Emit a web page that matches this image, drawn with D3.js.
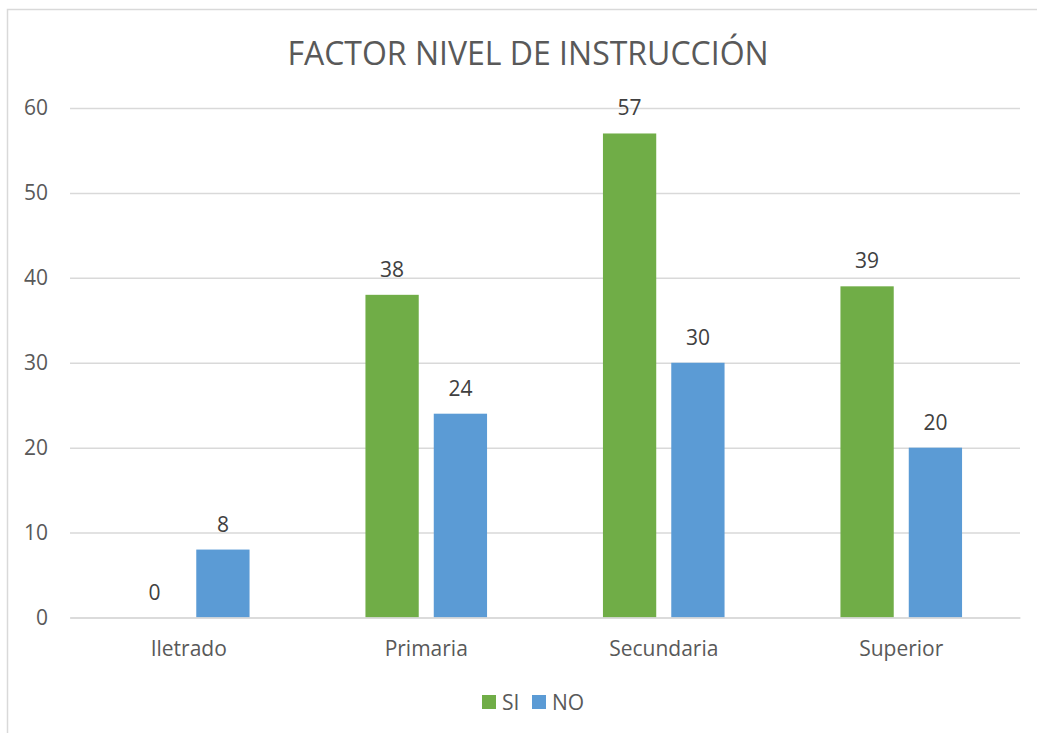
<!DOCTYPE html>
<html><head><meta charset="utf-8">
<script src="https://cdn.jsdelivr.net/npm/d3@7"></script>
<style>body{margin:0;background:#fff;} text{font-family:"Open Sans",sans-serif;}</style>
</head><body><svg id="c" width="1037" height="733" style="display:block"></svg>
<script>
const categories = ["Iletrado","Primaria","Secundaria","Superior"];
const seriesNames = ["SI","NO"];
const siValues = [0,38,57,39];
const noValues = [8,24,30,20];
const yTicks = [0,10,20,30,40,50,60];
const colors = ["#70AD47","#5B9BD5"];

const svg = d3.select("#c");
svg.append("rect").attr("x",7.5).attr("y",9.5).attr("width",1040).attr("height",740)
  .attr("fill","#fff").attr("stroke","#d9d9d9").attr("stroke-width",1.5);

const pLeft=70,pRight=1020,pTop=108,pBottom=617.5;
const x = d3.scaleBand().domain(categories).range([pLeft,pRight]).paddingInner(0).paddingOuter(0);
const y = d3.scaleLinear().domain([0,60]).range([pBottom,pTop]);
const inner = d3.scaleBand().domain(seriesNames).range([-60.8,60.8]).paddingInner(0.22);

// grid
const yAxis = d3.axisLeft(y).tickValues(yTicks).tickSize(-(pRight-pLeft)).tickPadding(22);
const g = svg.append("g").attr("transform",`translate(${pLeft},0)`).call(yAxis);
g.select(".domain").remove();
g.selectAll(".tick line").attr("stroke","#d9d9d9").attr("stroke-width",1.5);
g.selectAll(".tick text").attr("fill","#595959").style("font-size","21px");

const data = categories.map((c,i)=>({c, vals:[siValues[i],noValues[i]]}));
const grp = svg.append("g").selectAll("g").data(data).join("g")
  .attr("transform",d=>`translate(${x(d.c)+x.bandwidth()/2},0)`);
grp.selectAll("rect").data(d=>d.vals.map((v,i)=>({v,s:seriesNames[i],i})))
  .join("rect")
  .attr("x",d=>inner(d.s)).attr("width",inner.bandwidth())
  .attr("y",d=>y(d.v)).attr("height",d=>y(0)-y(d.v))
  .attr("fill",d=>colors[d.i]);
grp.selectAll("text").data(d=>d.vals.map((v,i)=>({v,s:seriesNames[i],i})))
  .join("text")
  .attr("x",d=>inner(d.s)+inner.bandwidth()/2).attr("y",d=>y(d.v)-18)
  .attr("text-anchor","middle").attr("fill","#404040").style("font-size","21px")
  .text(d=>d.v);

// x axis labels
const xAxis = d3.axisBottom(x).tickSize(0).tickPadding(23.5);
const gx = svg.append("g").attr("transform",`translate(0,${pBottom})`).call(xAxis);
gx.select(".domain").attr("stroke","#d9d9d9").attr("stroke-width",1.5);
gx.selectAll(".tick text").attr("fill","#595959").style("font-size","21px");

// title
svg.append("text").attr("x",528).attr("y",65).attr("text-anchor","middle")
  .attr("fill","#595959").style("font-size","32px").text("FACTOR NIVEL DE INSTRUCCIÓN");

// legend
const legendX = [482,532];
const lg = svg.append("g").selectAll("g").data(seriesNames).join("g")
  .attr("transform",(d,i)=>`translate(${legendX[i]},695)`);
lg.append("rect").attr("width",14).attr("height",14).attr("fill",(d,i)=>colors[i]);
lg.append("text").attr("x",20).attr("y",14.5).attr("fill","#595959").style("font-size","21px").text(d=>d);
</script></body></html>
